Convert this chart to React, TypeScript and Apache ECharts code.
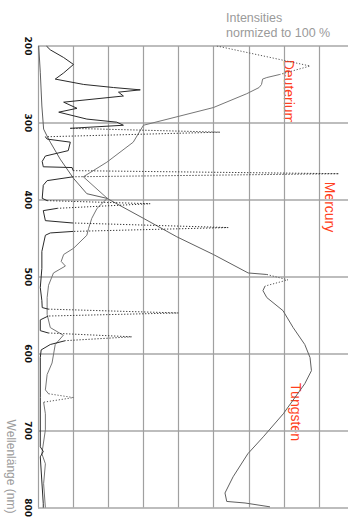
import React, { useEffect, useRef } from "react";
import * as echarts from "echarts";

// Wavelength axis (nm), drawn top to bottom
const wavelengthMin = 200;
const wavelengthMax = 800;
const wavelengthStep = 100;

// Relative intensity axis, one grid column = 10 units
const intensityMax = 88.2;
const intensityStep = 10;

// [wavelength (nm), relative intensity]
const deuterium: [number, number][] = [
  [200, 50.9], [226, 77.4], [237, 68.8], [241, 65.1], [243, 63.9], [250, 63.6],
  [254, 62.9], [262, 59.4], [280, 49.9], [291, 40.4], [303, 30.0], [325, 27.1],
  [351, 19.6], [370, 12.9], [398, 19.7], [411, 16.8], [424, 15.3], [437, 14.4],
  [446, 13.9], [463, 10.1], [471, 7.3], [480, 6.6], [486, 7.8], [495, 4.4],
  [511, 3.0], [527, 2.6], [549, 2.6], [566, 3.5], [576, 7.2], [588, 4.9],
  [612, 4.0], [627, 2.6], [647, 2.1], [652, 3.0], [657, 10.1], [663, 1.6],
  [678, 2.1], [699, 2.1], [730, 1.1], [743, 2.1], [769, 1.6], [800, 2.1],
];
const deuteriumPeaks = [226, 657];

const tungsten: [number, number][] = [
  [200, 0.2], [234, 0.65], [278, 1.1], [308, 1.6], [321, 3.0], [325, 3.5],
  [347, 6.3], [372, 10.1], [392, 13.9], [398, 19.6], [424, 30.0], [448, 39.5],
  [471, 49.9], [495, 59.8], [497, 65.1], [504, 71.1], [512, 64.6], [518, 64.0],
  [527, 65.1], [544, 69.7], [566, 72.6], [588, 75.9], [605, 77.4], [622, 77.8],
  [639, 75.9], [678, 69.8], [708, 64.1], [730, 59.7], [760, 55.5], [781, 53.2],
  [792, 53.7], [794, 58.9], [799, 66.0],
];
const tungstenPeaks = [504];

const mercury: [number, number][] = [
  [200, 2.4], [205, 3.5], [215, 7.3], [224, 10.1], [235, 7.3], [243, 4.9],
  [250, 13.0], [254, 21.5], [257, 29.1], [260, 22.9], [265, 24.3], [273, 7.3],
  [281, 11.1], [286, 5.9], [295, 13.9], [299, 22.4], [303, 24.3], [307, 9.2],
  [312, 51.8], [318, 2.1], [321, 2.6], [325, 9.2], [336, 8.6], [343, 2.1],
  [350, 1.2], [357, 1.5], [358, 9.7], [362, 10.0], [366, 85.6], [370, 10.0],
  [375, 2.6], [381, 1.5], [398, 1.2], [401, 2.6], [405, 31.9], [411, 5.5],
  [414, 1.5], [427, 2.1], [430, 9.7], [436, 54.1], [441, 10.0], [443, 3.5],
  [446, 2.1], [467, 1.1], [489, 1.1], [514, 0.65], [531, 1.1], [540, 1.2],
  [542, 2.9], [547, 39.9], [551, 2.9], [556, 0.65], [570, 0.65], [573, 2.9],
  [578, 26.7], [583, 7.8], [588, 3.5], [595, 0.9], [605, 0.65], [657, 0.65],
  [721, 0.65], [727, 1.5], [734, 0.65], [795, 1.5], [800, 1.5],
];
// Hg emission lines (nm)
const mercuryPeaks = [312, 366, 405, 436, 547, 578];

const axisTitle = "Wellenlänge (nm)";
const noteText = "Intensities\nnormized to 100 %";
const lampNames = ["Deuterium", "Mercury", "Tungsten"];

const FONT = '"Liberation Sans", Arial, sans-serif';
const RED = "#ff4020";
const DOTS = [1.2, 1.8];

type Pt = [number, number] | null;

// intensity on x, wavelength on y; null breaks the line
const toXY = (pts: Pt[]) => pts.map((p) => (p ? [p[1], p[0]] : ["-", "-"]));

// Narrow emission lines are drawn dotted, the rest of the trace solid
const splitPeaks = (pts: [number, number][], peaks: number[]) => {
  const base: Pt[] = [];
  const spikes: Pt[] = [];
  pts.forEach((p, i) => {
    if (peaks.includes(p[0])) {
      base.push(null);
      spikes.push(pts[i - 1], p, pts[i + 1], null);
    } else {
      base.push(p);
    }
  });
  return { base, spikes };
};

const lineSeries = (name: string, pts: Pt[], color: string, type: any = "solid") => ({
  name,
  type: "line",
  data: toXY(pts),
  showSymbol: false,
  symbol: "none",
  silent: true,
  connectNulls: false,
  lineStyle: { color, width: 1, type },
});

export default function App() {
  const ref = useRef<HTMLDivElement>(null);

  useEffect(() => {
    if (!ref.current) return;
    const chart = echarts.init(ref.current, null, { renderer: "svg" });

    const d2 = splitPeaks(deuterium, deuteriumPeaks);
    const w = splitPeaks(tungsten, tungstenPeaks);
    const hg = splitPeaks(mercury, mercuryPeaks);

    const lampText = (name: string, x: number, y: number) => ({
      type: "text",
      x,
      y,
      rotation: -Math.PI / 2,
      silent: true,
      style: {
        text: name,
        fill: RED,
        fontSize: 14,
        fontFamily: FONT,
        align: "center",
        verticalAlign: "middle",
        textAlign: "center",
        textVerticalAlign: "middle",
      },
    });

    chart.setOption({
      animation: false,
      grid: { left: 38, right: 7, top: 46, bottom: 9, containLabel: false },
      xAxis: {
        type: "value",
        min: 0,
        max: intensityMax,
        interval: intensityStep,
        axisLine: { show: false },
        axisTick: { show: false },
        axisLabel: { show: false },
        splitLine: {
          show: true,
          showMaxLine: false,
          lineStyle: { color: "#a0a0a0", width: 1.2 },
        },
      },
      yAxis: {
        type: "value",
        inverse: true,
        min: wavelengthMin,
        max: wavelengthMax,
        interval: wavelengthStep,
        axisLine: { show: false },
        axisTick: { show: false },
        axisLabel: {
          rotate: -90,
          margin: 6,
          fontSize: 9,
          fontWeight: "bold",
          fontFamily: '"DejaVu Sans", sans-serif',
          color: "#111",
        },
        splitLine: { show: true, lineStyle: { color: "#bdbdbd", width: 2 } },
      },
      series: [
        lineSeries(lampNames[0], d2.base, "#767676"),
        lineSeries(lampNames[0], d2.spikes, "#555", DOTS),
        lineSeries(lampNames[2], w.base, "#606060"),
        lineSeries(lampNames[2], w.spikes, "#555", DOTS),
        lineSeries(lampNames[1], hg.base, "#2a2a2a"),
        lineSeries(lampNames[1], hg.spikes, "#2a2a2a", DOTS),
      ],
      graphic: [
        {
          type: "text",
          left: 226,
          top: 10,
          silent: true,
          style: {
            text: noteText,
            fill: "#9a9a9a",
            fontSize: 12.5,
            lineHeight: 15,
            fontFamily: FONT,
          },
        },
        {
          type: "text",
          x: 10.5,
          y: 466.5,
          rotation: -Math.PI / 2,
          silent: true,
          style: {
            text: axisTitle,
            fill: "#9a9a9a",
            fontSize: 12,
            fontFamily: FONT,
            align: "center",
            verticalAlign: "middle",
            textAlign: "center",
            textVerticalAlign: "middle",
          },
        },
        lampText(lampNames[0], 289, 92),
        lampText(lampNames[1], 330, 207),
        lampText(lampNames[2], 296, 412),
      ],
    });

    return () => chart.dispose();
  }, []);

  return (
    <div
      ref={ref}
      style={{ position: "absolute", left: 0, top: 0, width: 355, height: 520 }}
    />
  );
}
